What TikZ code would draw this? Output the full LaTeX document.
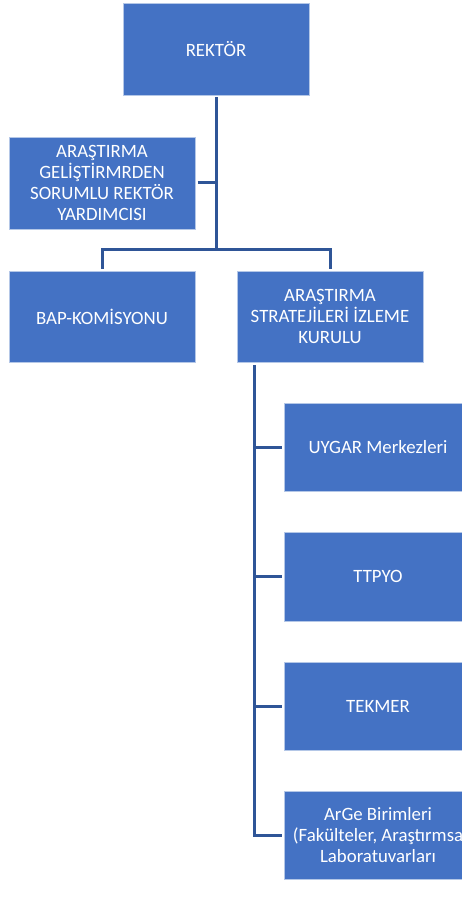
\documentclass[tikz,border=0pt]{standalone}
\usepackage{fontspec}
\setmainfont{Carlito}
\definecolor{boxblue}{HTML}{4472C4}
\definecolor{linkblue}{HTML}{2F5597}
\definecolor{edgeblue}{HTML}{B4C7E7}
\begin{document}
\begin{tikzpicture}[x=1pt,y=-1pt,
  orgbox/.style={rectangle, fill=boxblue, draw=edgeblue, line width=0.8pt,
    minimum width=186pt, minimum height=91pt, text=white,
    font=\fontsize{18.8}{21}\selectfont, align=center, inner sep=0pt, outer sep=2.5pt},
  link/.style={draw=linkblue, line width=3pt, line join=miter}]
\useasboundingbox (0,0) rectangle (462,901);
\clip (0,0) rectangle (462,901);
\node[orgbox, minimum height=92pt] (rektor) at (216,49) {REKTÖR};
\node[orgbox, minimum height=92pt] (deputy) at (102,183) {ARAŞTIRMA\\GELİŞTİRMRDEN\\SORUMLU REKTÖR\\YARDIMCISI};
\node[orgbox] (bap) at (102,316.5) {BAP-KOMİSYONU};
\node[orgbox] (asik) at (330,316.5) {ARAŞTIRMA\\STRATEJİLERİ İZLEME\\KURULU};
\node[orgbox, minimum width=188pt, minimum height=88pt] (uygar) at (378,447) {UYGAR Merkezleri};
\node[orgbox, minimum width=188pt, minimum height=89pt] (ttpyo) at (378,576.5) {TTPYO};
\node[orgbox, minimum width=188pt, minimum height=88pt] (tekmer) at (378,706) {TEKMER};
\node[orgbox, minimum width=188pt, minimum height=88pt] (arge) at (378,835) {ArGe Birimleri\\(Fakülteler, Araştırmsa\\Laboratuvarları};
\coordinate (j) at (216,249);
\coordinate (sp) at (254.5,365);
\draw[link] (rektor.south) -- (j);
\draw[link] (deputy.east) -- (deputy.east -| j);
\draw[link] (bap.north) -- (bap.north |- j) -- (asik.north |- j) -- (asik.north);
\draw[link] (sp) |- (arge.west);
\draw[link] (uygar.west) -- (uygar.west -| sp);
\draw[link] (ttpyo.west) -- (ttpyo.west -| sp);
\draw[link] (tekmer.west) -- (tekmer.west -| sp);
\end{tikzpicture}
\end{document}
